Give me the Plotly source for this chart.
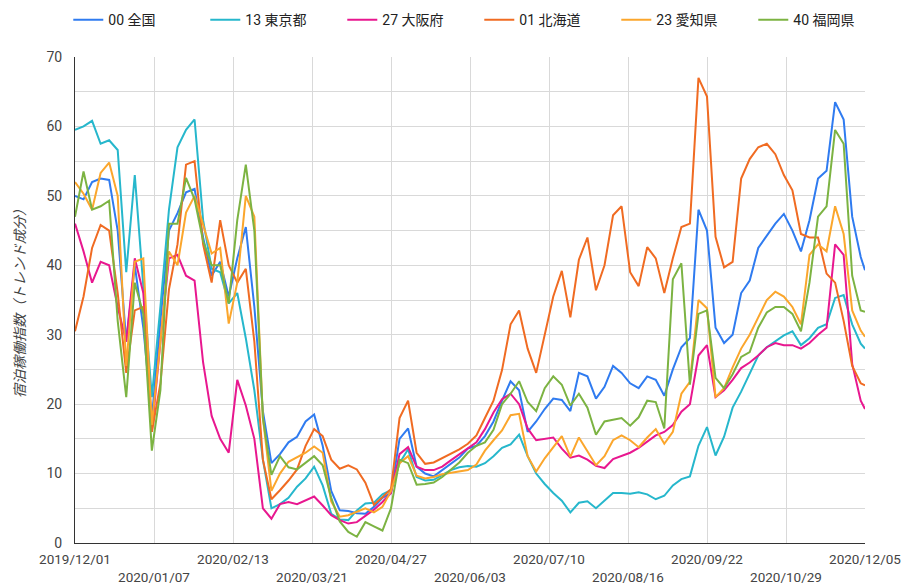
import pandas as pd
import plotly.graph_objects as go

# sample dates (every 4 days from 2019-12-01, plus the last day)
dates = list(pd.date_range("2019-12-01", periods=93, freq="4D").strftime("%Y-%m-%d")) + ["2020-12-05"]

zenkoku = [50, 49.5, 52, 52.5, 52.3, 45, 29, 40, 31, 18,
           32, 45, 47.5, 50.5, 51, 44, 38.5, 40.5, 35.5, 41,
           45.5, 34, 19, 11.5, 12.8, 14.5, 15.3, 17.5, 18.5, 14,
           7.5, 4.7, 4.6, 4.3, 4.2, 5.2, 6.5, 7.2, 15, 16.5,
           11, 10, 9.6, 10.5, 11.4, 12.3, 13.6, 14, 15.4, 17.5,
           20.5, 23.3, 22, 16, 17.5, 19.3, 20.8, 20.6, 19, 24.5,
           24, 20.8, 22.5, 25.5, 24.5, 23, 22.3, 24, 23.5, 21.2,
           25, 28.2, 29.5, 48, 45, 31, 28.8, 30, 36, 37.8,
           42.5, 44.3, 46, 47.4, 45, 42, 46.5, 52.5, 53.6, 63.5,
           61, 47, 41.2, 39.3]

tokyo = [59.5, 60, 60.8, 57.5, 58, 56.6, 39, 53, 37, 21,
         34, 48, 57, 59.5, 61, 46.5, 39.5, 39, 34.5, 36,
         29.5, 22, 12, 5, 5.6, 6.5, 8.1, 9.3, 11, 8.3,
         4.2, 3.4, 3.3, 4.7, 5.7, 5.8, 7, 7.6, 11.5, 13.5,
         9.5, 9, 9.1, 9.8, 10.5, 10.9, 11.1, 11, 11.5, 12.5,
         13.7, 14.2, 15.6, 12.5, 10, 8.5, 7.2, 6.1, 4.4, 5.8,
         6, 5, 6.1, 7.2, 7.2, 7.1, 7.3, 7, 6.3, 6.8,
         8.3, 9.2, 9.6, 14, 16.7, 12.6, 15.3, 19.5, 21.8, 24.5,
         27, 28.2, 29, 29.9, 30.5, 28.5, 29.5, 31, 31.5, 35.3,
         35.7, 31.5, 28.7, 28]

osaka = [46, 42, 37.5, 40.5, 40, 34, 29, 41, 36, 16,
         29, 41, 41.5, 38.5, 37.8, 26, 18.3, 15, 13, 23.5,
         19.8, 15, 5, 3.5, 5.6, 5.9, 5.6, 6.1, 6.7, 5.4,
         4, 3.3, 2.8, 3, 3.9, 4.8, 5.9, 7.2, 12.8, 13.8,
         11, 10.5, 10.5, 11, 11.9, 12.8, 13.6, 14.5, 16.4, 18.8,
         20.7, 21.5, 20, 16.5, 14.8, 15, 15.2, 13.6, 12.3, 12.6,
         12, 11.1, 10.8, 12.1, 12.5, 13, 13.7, 14.6, 15.5, 16,
         17, 18.9, 20, 27, 28.5, 21, 22, 23.5, 25.2, 26,
         27, 28.2, 28.8, 28.5, 28.5, 28, 28.8, 30, 31, 43,
         41.5, 25.8, 20.5, 19.3]

hokkaido = [30.5, 35.5, 42.5, 45.8, 45, 36, 24.5, 33.5, 34, 16,
            23, 36.5, 43, 54.5, 55, 43, 37.5, 46.5, 40, 37.5,
            39.5, 29, 12, 6.3, 7.6, 9, 10.6, 14, 16.4, 15.4,
            12, 10.7, 11.2, 10.6, 8.7, 5.5, 6.6, 7.8, 18, 20.5,
            13, 11.4, 11.6, 12.2, 12.8, 13.5, 14.3, 15.5, 18, 20.5,
            24.9, 31.5, 33.5, 28, 24.5, 30, 35.5, 39.2, 32.5, 40.8,
            44, 36.4, 40, 47.2, 48.5, 39, 37, 42.6, 41, 36,
            41, 45.5, 46, 67, 64.3, 44.1, 39.7, 40.5, 52.5, 55.3,
            57, 57.5, 56, 53, 50.8, 44.5, 44, 44, 38.8, 37.5,
            32, 25.5, 23, 22.7]

aichi = [52, 50.3, 48, 53.3, 54.8, 50, 25.5, 40.5, 41, 17,
         29, 42, 40, 47.6, 50, 46, 41.7, 42.5, 31.6, 37.5,
         50, 47, 18, 7.5, 10, 11.7, 12.3, 13, 13.9, 13,
         6, 3.8, 4, 4.5, 5, 4.4, 5.2, 7.5, 11.5, 12.5,
         9.7, 9.3, 9.5, 9.9, 10.1, 10.3, 10.5, 11.3, 13.3, 14.8,
         16.2, 18.4, 18.6, 12.5, 10.3, 12.2, 13.8, 15.4, 12.4, 15.2,
         13.2, 11.2, 12.5, 14.8, 15.5, 14.8, 13.8, 15.2, 16.4, 14.3,
         16, 21.5, 23.2, 35, 33.8, 21, 22.3, 25.3, 28, 30,
         32.5, 35, 36.2, 35.5, 34, 31.5, 41.5, 43, 42, 48.5,
         44.5, 33.5, 30.6, 29.7]

fukuoka = [47, 53.5, 48, 48.5, 49.3, 32, 21, 37.5, 33, 13.3,
           22, 46, 46, 52.6, 49.5, 43.5, 40, 40, 34.5, 46.5,
           54.5, 45, 18, 9.8, 12.5, 10.9, 10.6, 11.5, 12.5, 11.2,
           6.5, 3.1, 1.6, 0.9, 3, 2.4, 1.8, 5, 12, 11.5,
           8.4, 8.5, 8.7, 9.5, 10.5, 11.6, 13, 14, 14.5, 16.3,
           20, 21.5, 23.3, 20.3, 19, 22.3, 24, 22.8, 19.8, 21.5,
           19.5, 15.6, 17.5, 17.8, 18, 16.9, 18.1, 20.5, 20.3, 16.5,
           38, 40.3, 22.8, 33, 33.5, 23.8, 22.3, 24.3, 26.8, 27.5,
           31, 33.2, 34, 34, 33, 30.5, 37.5, 47, 48.5, 59.5,
           57.5, 38.5, 33.5, 33.3]

series_names = ["00 全国", "13 東京都", "27 大阪府", "01 北海道", "23 愛知県", "40 福岡県"]
series_values = [zenkoku, tokyo, osaka, hokkaido, aichi, fukuoka]
series_colors = ["#2f7bf0", "#26b7cc", "#e8178f", "#f06b22", "#fba62c", "#7cb342"]

tick_dates = ["2019-12-01", "2020-01-07", "2020-02-13", "2020-03-21", "2020-04-27", "2020-06-03",
              "2020-07-10", "2020-08-16", "2020-09-22", "2020-10-29", "2020-12-05"]
tick_labels = ["2019/12/01", "2020/01/07", "2020/02/13", "2020/03/21", "2020/04/27", "2020/06/03",
               "2020/07/10", "2020/08/16", "2020/09/22", "2020/10/29", "2020/12/05"]
tick_text = [t if i % 2 == 0 else "<br>" + t for i, t in enumerate(tick_labels)]

y_title = "宿泊稼働指数（トレンド成分）"

FONT = "Roboto, 'Noto Sans CJK JP', sans-serif"

fig = go.Figure()
for name, vals, col in zip(series_names, series_values, series_colors):
    fig.add_trace(go.Scatter(x=dates, y=vals, name=name, mode="lines",
                             line=dict(color=col, width=2)))

fig.update_layout(
    width=910, height=586,
    margin=dict(l=75, r=45, t=57, b=43, autoexpand=False),
    paper_bgcolor="white", plot_bgcolor="white",
    font=dict(family=FONT, size=13, color="#444"),
    legend=dict(orientation="h", x=-0.0085, xanchor="left", y=1.076, yanchor="middle",
                font=dict(size=14, color="#222"), entrywidth=92, entrywidthmode="pixels",
                itemwidth=30, traceorder="normal"),
    showlegend=True,
)
fig.update_xaxes(
    type="date", range=["2019-12-01", "2020-12-05"],
    tickvals=tick_dates, ticktext=tick_text, tickangle=0,
    showgrid=True, gridcolor="#d9d9d9", gridwidth=1,
    showline=True, linecolor="#333", linewidth=1,
    ticks="", tickfont=dict(size=13.5, color="#444"), ticklabelstandoff=4,
)
fig.update_yaxes(
    range=[0, 70], dtick=10, tick0=0,
    showgrid=True, gridcolor="#d9d9d9", gridwidth=1,
    minor=dict(dtick=5, showgrid=True, gridcolor="#d9d9d9", gridwidth=1),
    showline=True, linecolor="#333", linewidth=1, zeroline=False,
    ticks="", tickfont=dict(size=14, color="#444"), ticklabelstandoff=9,
    title=dict(text=y_title, font=dict(size=14, color="#444", style="italic"), standoff=17),
)

fig.write_html("out.html", config={"displayModeBar": False},
               post_script="document.body.style.margin='0';")
